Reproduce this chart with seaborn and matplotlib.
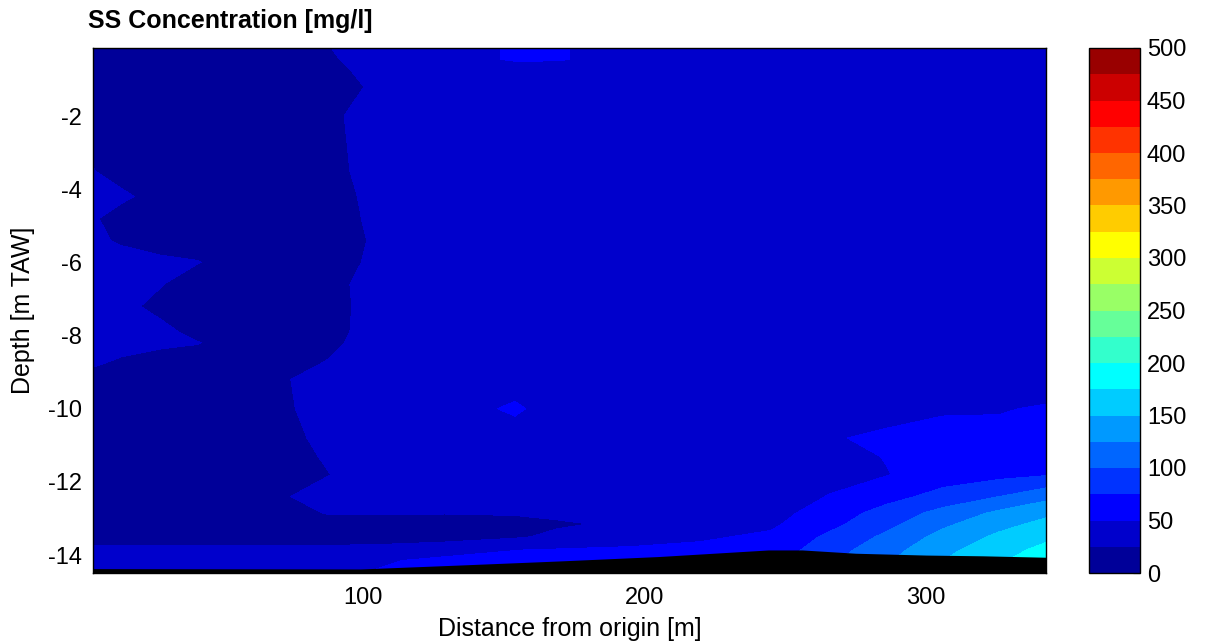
import numpy as np
import matplotlib
matplotlib.use("Agg")
import matplotlib.pyplot as plt
from matplotlib.colors import ListedColormap, BoundaryNorm
import seaborn as sns

# Transect grid: distance along the section [m] and depth [m TAW]
distance = [4, 14, 28, 41, 58, 73, 88, 104, 129, 154, 169, 195, 220, 245, 265, 286, 306, 326, 343]
depth = [-0.14, -0.45, -0.7, -1.2, -2.0, -3.5, -4.2, -4.8, -5.4, -6.0, -6.6, -7.2, -7.9,
         -8.2, -8.7, -9.2, -10.0, -10.8, -11.3, -11.8, -12.4, -12.85, -13.15, -13.5,
         -13.85, -14.15, -14.5]

# SS concentration [mg/l], one row per depth, one column per distance
ssc = [
    [15, 15, 15, 15, 15, 15, 24.5, 35, 35, 54, 53, 35, 35, 35, 35, 35, 35, 35, 35],
    [15, 15, 15, 15, 15, 15, 22, 35, 35, 54, 53, 35, 35, 35, 35, 35, 35, 35, 35],
    [15, 15, 15, 15, 15, 15, 17, 35, 35, 35, 35, 35, 35, 35, 35, 35, 35, 35, 35],
    [15, 15, 15, 15, 15, 15, 15, 28, 35, 35, 35, 35, 35, 35, 35, 35, 35, 35, 35],
    [15, 15, 15, 15, 15, 15, 20, 35, 35, 35, 35, 35, 35, 35, 35, 35, 35, 35, 35],
    [26, 15, 15, 15, 15, 15, 16.5, 35, 35, 35, 35, 35, 35, 35, 35, 35, 35, 35, 35],
    [35, 30, 15, 15, 15, 15, 15, 31, 35, 35, 35, 35, 35, 35, 35, 35, 35, 35, 35],
    [28, 15, 15, 15, 15, 15, 15, 29, 35, 35, 35, 35, 35, 35, 35, 35, 35, 35, 35],
    [30, 22, 15, 15, 15, 15, 15, 27, 35, 35, 35, 35, 35, 35, 35, 35, 35, 35, 35],
    [35, 35, 30, 26, 15, 15, 15, 29, 35, 35, 35, 35, 35, 35, 35, 35, 35, 35, 35],
    [35, 35, 26, 15, 15, 15, 16.5, 35, 35, 35, 35, 35, 35, 35, 35, 35, 35, 35, 35],
    [35, 30, 20, 15, 15, 15, 15, 35, 35, 35, 35, 35, 35, 35, 35, 35, 35, 35, 35],
    [35, 35, 30, 20, 15, 15, 16.5, 35, 35, 35, 35, 35, 35, 35, 35, 35, 35, 35, 35],
    [35, 35, 30, 26, 15, 15, 20, 35, 35, 35, 35, 35, 35, 35, 35, 35, 35, 35, 35],
    [30, 22, 15, 15, 15, 15, 26, 35, 35, 35, 35, 35, 35, 35, 35, 35, 35, 35, 35],
    [15, 15, 15, 15, 15, 24, 35, 35, 35, 35, 35, 35, 35, 35, 35, 35, 35, 35, 35],
    [15, 15, 15, 15, 15, 22.5, 35, 35, 35, 55, 35, 35, 35, 35, 35, 42, 48, 48, 53],
    [15, 15, 15, 15, 15, 16, 35, 35, 35, 35, 35, 35, 35, 35, 48, 54, 56, 58, 60],
    [15, 15, 15, 15, 15, 15, 28.6, 35, 35, 35, 35, 35, 35, 35, 42, 51, 58, 61, 64],
    [15, 15, 15, 15, 15, 15, 24.5, 35, 35, 35, 35, 35, 35, 35, 45, 49, 62, 68, 73],
    [15, 15, 15, 15, 15, 24, 35, 35, 32, 33, 35, 35, 35, 38, 50.5, 66, 84, 100, 118],
    [15, 15, 15, 15, 15, 15, 27, 27, 26, 27, 30, 35, 37, 42, 60, 85, 108, 130, 145],
    [15, 15, 15, 15, 15, 15, 15, 15, 15, 18, 22, 29, 40, 46, 67, 93, 120, 142, 157],
    [15, 15, 15, 15, 15, 15, 15, 17, 18, 22, 30, 40, 47, 54, 79, 105, 133, 155, 170],
    [30, 30, 30, 30, 30, 30, 30, 30, 35, 49.5, 51, 53, 55, 60, 88, 115, 143, 165, 182],
    [35, 35, 35, 35, 35, 35, 35, 45, 58, 55, 55, 58, 60, 65, 95, 122, 150, 172, 190],
    [38, 38, 38, 38, 38, 38, 38, 52, 60, 58, 58, 60, 62, 70, 100, 128, 155, 178, 195],
]

# River bed
bed_distance = [4, 99, 135, 170, 205, 244, 256, 275, 300, 320, 343]
bed_depth = [-14.37, -14.38, -14.27, -14.16, -14.04, -13.86, -13.86, -13.95, -14.0, -14.02, -14.06]

levels = list(range(0, 525, 25))
cbar_ticks = list(range(0, 550, 50))


def matlab_jet(n):
    # same construction as MATLAB's jet(n)
    q = int(np.ceil(n / 4))
    u = np.concatenate([np.arange(1, q + 1) / q, np.ones(q - 1), np.arange(q, 0, -1) / q])
    g = int(np.ceil(q / 2)) - (1 if n % 4 == 1 else 0) + np.arange(1, len(u) + 1)
    r, b = g + q, g - q
    out = np.zeros((n, 3))
    for col, idx in ((0, r), (1, g), (2, b)):
        keep = (idx >= 1) & (idx <= n)
        out[idx[keep] - 1, col] = u[keep]
    return out


sns.set_theme(style="white")
plt.rcParams["font.family"] = ["Liberation Sans", "DejaVu Sans"]
plt.rcParams["axes.unicode_minus"] = False
for key in ["text.color", "axes.labelcolor", "xtick.color", "ytick.color"]:
    plt.rcParams[key] = "black"

cmap = ListedColormap(matlab_jet(len(levels) - 1))
norm = BoundaryNorm(levels, cmap.N)

fig = plt.figure(figsize=(12.05, 6.43), dpi=100)
ax = fig.add_axes([93 / 1205, 70 / 643, 953 / 1205, 525 / 643])

cs = ax.contourf(distance, depth, ssc, levels=levels, cmap=cmap, norm=norm)
ax.fill_between(bed_distance, bed_depth, -14.49, color="black", linewidth=0)

ax.set_xlim(4.1, 342.6)
ax.set_ylim(-14.49, -0.14)
ax.set_xticks([100, 200, 300])
ax.set_yticks(list(range(-14, -1, 2)))
ax.tick_params(axis="x", pad=10)
ax.tick_params(direction="in", top=True, right=True, length=6, width=0.8,
               labelsize=17)
ax.tick_params(axis="y", pad=8)
for s in ax.spines.values():
    s.set_color("black")
    s.set_linewidth(1)

ax.set_xlabel("Distance from origin [m]", fontsize=18, labelpad=6)
ax.set_ylabel("Depth [m TAW]", fontsize=18, labelpad=9)
fig.text(88 / 1205, 1 - 21 / 643, "SS Concentration [mg/l]", fontsize=18,
         fontweight="bold", va="center", ha="left")

cax = fig.add_axes([1089 / 1205, 70 / 643, 51 / 1205, 525 / 643])
cb = fig.colorbar(cs, cax=cax, ticks=cbar_ticks)
cb.outline.set_edgecolor("black")
cb.outline.set_linewidth(1)
cax.minorticks_off()
cax.tick_params(which="both", direction="in", length=5, width=0.8,
                labelsize=17, pad=5, right=True, left=False)

fig.savefig("out.png", dpi=100)
